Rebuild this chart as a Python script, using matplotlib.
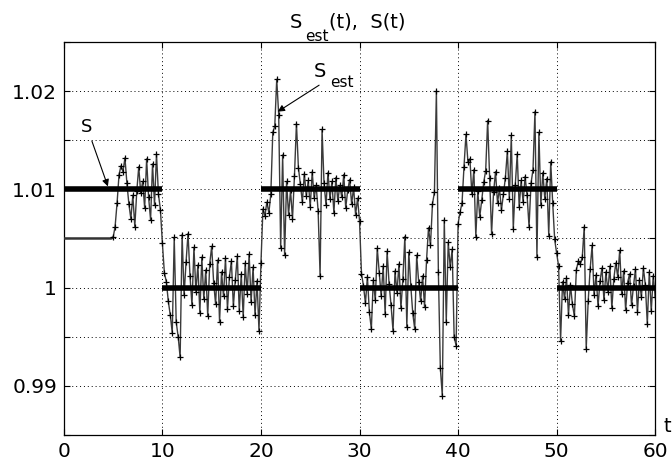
import matplotlib
matplotlib.use("Agg")
import matplotlib.pyplot as plt
import numpy as np

plt.rcParams['font.family'] = ['DejaVu Sans']

# true signal S(t): piecewise constant levels
s_starts = [0, 10, 20, 30, 40, 50]
s_ends = [10, 20, 30, 40, 50, 60]
s_levels = [1.01, 1.0, 1.01, 1.0, 1.01, 1.0]

# estimate S_est(t), sampled every 0.2, values in 1e-3 above 1
dt = 0.2
s_est_milli = [
    5.0, 5.0, 5.0, 5.0, 5.0, 5.0, 5.0, 5.0, 5.0, 5.0,
    5.0, 5.0, 5.0, 5.0, 5.0, 5.0, 5.0, 5.0, 5.0, 5.0,
    5.0, 5.0, 5.0, 5.0, 5.0,
    5.1, 6.2, 8.6, 11.5, 12.4,
    11.8, 13.2, 10.6, 8.5, 7.0,
    9.4, 6.2, 9.8, 12.3, 9.6,
    10.8, 8.1, 13.1, 9.2, 6.9,
    12.6, 8.4, 13.6, 9.5, 7.9,
    4.5, 1.5, 0.6, -1.4, -2.8,
    -4.6, 5.1, -3.5, -5.0, -7.1,
    5.4, -0.8, 2.6, 5.5, 1.2,
    -1.8, 4.1, -0.4, 2.3, -2.6,
    3.1, -1.2, 1.8, -2.9, 2.4,
    4.2, 0.5, -1.7, 2.8, -3.5,
    1.6, -0.9, 3.0, -2.2, 1.1,
    2.7, -1.9, 0.8, 3.2, -2.4,
    1.4, -3.0, 2.5, -0.6, 3.4,
    -1.5, 2.1, -2.8, 0.7, -4.4,
    2.5, 8.0, 7.3, 8.7, 7.6,
    9.5, 15.8, 16.4, 21.2, 17.6,
    4.0, 13.5, 3.3, 10.8, 7.4,
    9.9, 7.0, 11.4, 16.7, 12.2,
    10.5, 8.7, 11.6, 9.3, 10.9,
    8.2, 11.8, 9.1, 10.4, 7.8,
    1.2, 16.1, 10.6, 8.4, 11.7,
    9.0, 10.8, 7.6, 11.2, 8.8,
    10.4, 9.2, 11.5, 8.1, 9.9,
    11.0, 8.5, 10.2, 7.4, 9.1,
    6.8, 1.4, 0.2, -1.6, 1.1,
    -2.5, -4.2, 0.8, -1.3, 4.0,
    1.5, -0.9, 2.2, -2.7, 3.7,
    0.4, -1.8, -4.4, 1.7, -0.5,
    2.4, -2.1, 0.9, 5.2, -4.0,
    3.6, 0.2, -2.6, -4.2, 3.3,
    0.6, -1.4, 1.2, -2.0, 2.8,
    6.1, 4.3, 8.5, 9.7, 20.0,
    1.6, -8.2, -11.0, 6.9, -3.5,
    4.6, 2.1, 3.9, -5.0, -5.9,
    6.5, 7.7, 8.6, 12.3, 15.6,
    12.8, 13.1, 9.5, 12.0, 5.2,
    9.8, 7.2, 8.9, 10.7, 11.9,
    17.0, 11.2, 5.5, 9.7, 11.8,
    8.6, 10.1, 7.9, 9.5, 11.2,
    13.9, 9.0, 15.5, 6.0, 10.4,
    13.6, 8.2, 10.9, 8.7, 11.3,
    9.4, 6.2, 10.6, 12.0, 17.9,
    3.1, 15.8, 8.4, 11.7, 9.0,
    11.1, 5.3, 12.8, 8.6, 4.9,
    3.5, 2.2, -5.4, 0.6, -1.2,
    1.0, -2.8, 0.3, -1.7, -2.9,
    1.8, 2.7, 2.4, 3.1, 6.2,
    -6.2, -1.4, 1.9, 4.3, -0.8,
    1.3, -1.9, 0.7, 2.0, -1.3,
    1.6, -0.4, 2.2, -2.1, 0.9,
    2.5, 1.1, 3.8, -0.7, 1.7,
    -2.3, 0.5, 1.4, -1.8, 0.2,
    1.9, -2.5, 0.8, -1.0, 2.0,
    0.3, -3.7, 1.6, -2.4, 1.2,
    -1.0,
]

t = np.arange(len(s_est_milli)) * dt
s_est = 1 + np.array(s_est_milli) / 1000.0

fig = plt.figure(figsize=(6.72, 4.66), dpi=100)
ax = fig.add_axes([0.095, 0.0665, 0.88, 0.8435])

# flat start drawn without markers, the rest with + markers
ax.plot(t[:26], s_est[:26], color='#333333', lw=1.8, zorder=3)
ax.plot(t[25:], s_est[25:], color='#3a3a3a', lw=1.0, marker='+', ms=4,
        mec='black', mew=0.9, zorder=3)
ax.hlines(s_levels, s_starts, s_ends, colors='black', lw=4, zorder=4)

ax.set_xlim(0, 60)
ax.set_ylim(0.985, 1.025)
ax.set_xticks([0, 10, 20, 30, 40, 50, 60])
yt = [0.985, 0.99, 0.995, 1.0, 1.005, 1.01, 1.015, 1.02, 1.025]
ax.set_yticks(yt)
ax.set_yticklabels(['', '0.99', '', '1', '', '1.01', '', '1.02', ''])
ax.tick_params(direction='in', top=True, right=True, labelsize=14.5,
               length=4, width=0.8)
ax.tick_params(axis='x', pad=5)
ax.tick_params(axis='y', pad=5)
ax.grid(True, linestyle=(0, (1, 3)), color='black', lw=0.7)
for sp in ax.spines.values():
    sp.set_linewidth(0.9)

# title: S_est(t),  S(t) with a large, low subscript
fig.text(290 / 672, 1 - 28 / 466, 'S', fontsize=14, va='baseline')
fig.text(305 / 672, 1 - 41 / 466, 'est', fontsize=11, va='baseline')
fig.text(329 / 672, 1 - 28 / 466, '(t),  S(t)', fontsize=14, va='baseline')

ax.text(1.02, 0.008, 't', transform=ax.transAxes, fontsize=14,
        ha='center', va='baseline')

# annotation S
ax.text(2.3, 1.0163, 'S', fontsize=13, ha='center', va='center')
ax.annotate('', xy=(4.47, 1.0103), xytext=(2.85, 1.0149),
            arrowprops=dict(arrowstyle='-|>', color='black', lw=0.8,
                            mutation_scale=10, shrinkA=0, shrinkB=0))

# annotation S_est
ax.text(26.0, 1.0220, 'S', fontsize=14, ha='center', va='center')
ax.text(28.2, 1.0209, 'est', fontsize=11, ha='center', va='center')
ax.annotate('', xy=(21.7, 1.0179), xytext=(25.9, 1.0206),
            arrowprops=dict(arrowstyle='-|>', color='black', lw=0.8,
                            mutation_scale=10, shrinkA=0, shrinkB=0))

fig.savefig('out.png', dpi=100)
